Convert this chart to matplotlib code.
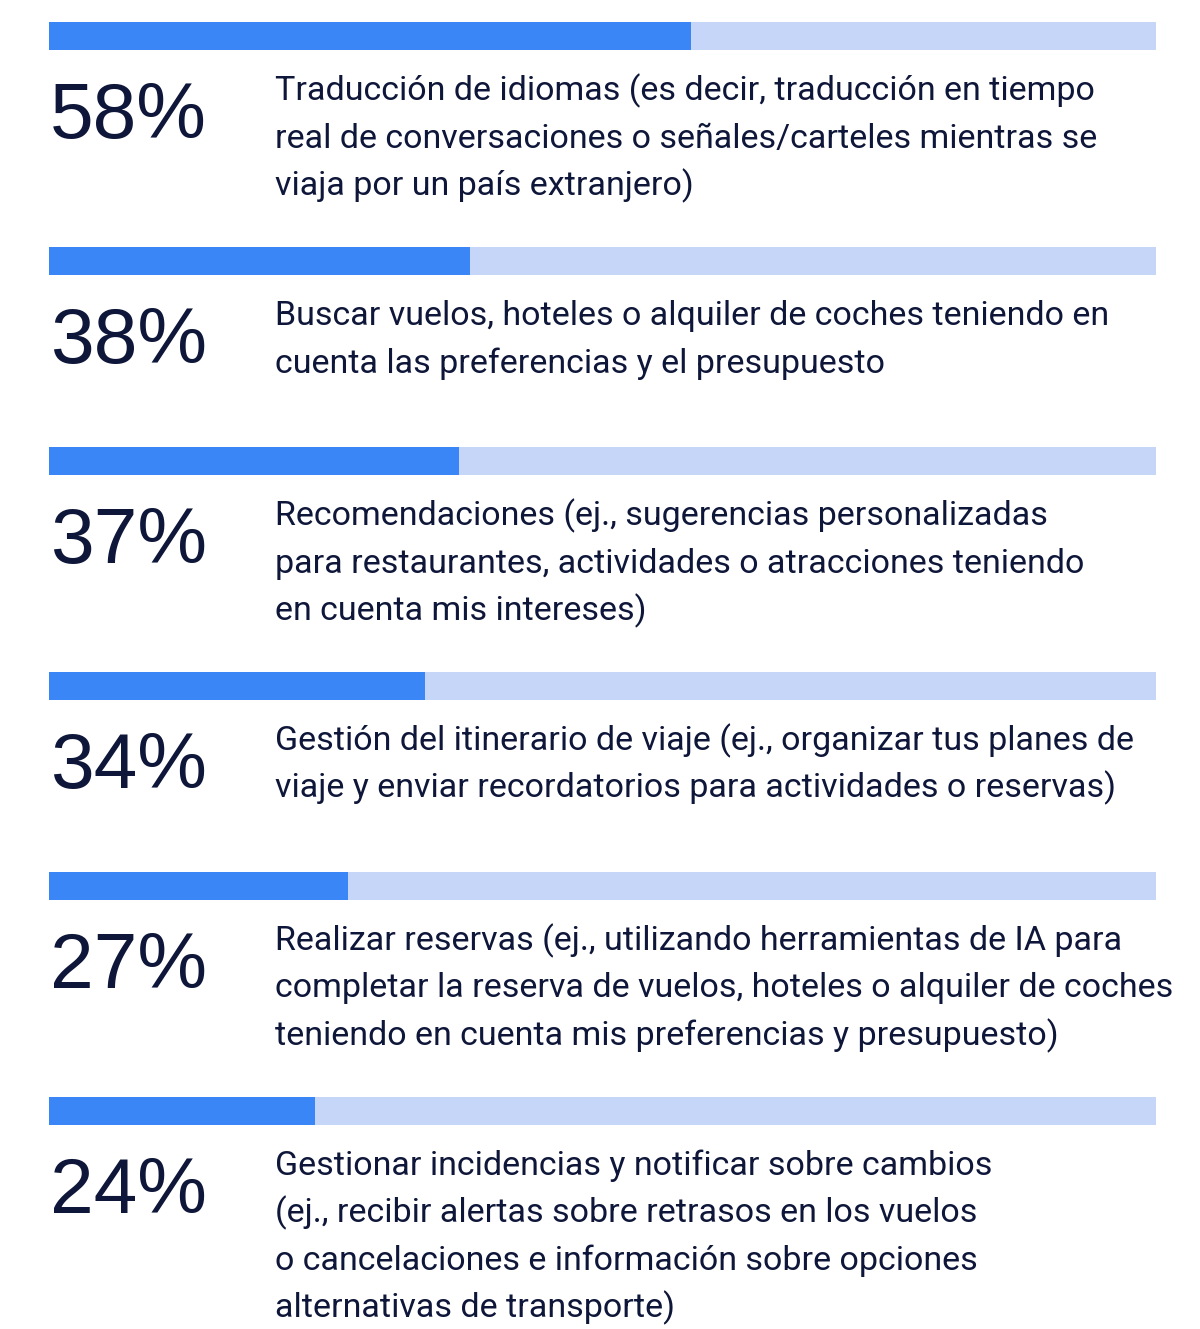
import matplotlib
matplotlib.use("Agg")
import matplotlib.pyplot as plt

values = [58, 38, 37, 34, 27, 24]
pct_labels = ["58%", "38%", "37%", "34%", "27%", "24%"]
labels = [
    "Traducción de idiomas (es decir, traducción en tiempo\nreal de conversaciones o señales/carteles mientras se\nviaja por un país extranjero)",
    "Buscar vuelos, hoteles o alquiler de coches teniendo en\ncuenta las preferencias y el presupuesto",
    "Recomendaciones (ej., sugerencias personalizadas\npara restaurantes, actividades o atracciones teniendo\nen cuenta mis intereses)",
    "Gestión del itinerario de viaje (ej., organizar tus planes de\nviaje y enviar recordatorios para actividades o reservas)",
    "Realizar reservas (ej., utilizando herramientas de IA para\ncompletar la reserva de vuelos, hoteles o alquiler de coches\nteniendo en cuenta mis preferencias y presupuesto)",
    "Gestionar incidencias y notificar sobre cambios\n(ej., recibir alertas sobre retrasos en los vuelos\no cancelaciones e información sobre opciones\nalternativas de transporte)",
]

W, H = 1200, 1329
DARK = "#3b86f6"
LIGHT = "#c5d6f8"
TEXT = "#0e1639"

fig = plt.figure(figsize=(W / 100, H / 100), dpi=100)
fig.patch.set_facecolor("white")

# text axes in pixel coordinates
axt = fig.add_axes([0, 0, 1, 1])
axt.set_xlim(0, W)
axt.set_ylim(H, 0)
axt.axis("off")

# bar axes spanning bar extent, 0-100 scale
x0, x1 = 49, 1156
axb = fig.add_axes([x0 / W, 0, (x1 - x0) / W, 1])
axb.set_xlim(0, 100)
axb.set_ylim(H, 0)
axb.axis("off")

bar_h = 28
line_sp = 47.5
top = 22
for v, p, lab in zip(values, pct_labels, labels):
    n = lab.count("\n") + 1
    yc = top + bar_h / 2
    axb.barh(yc, 100, height=bar_h, color=LIGHT, linewidth=0)
    axb.barh(yc, v, height=bar_h, color=DARK, linewidth=0)
    axt.text(50, top + 116, p, fontsize=56.5, family="Liberation Sans",
             color=TEXT, va="baseline", ha="left")
    for i, line in enumerate(lab.split("\n")):
        axt.text(275, top + 78 + i * line_sp, line, fontsize=24.5, family="Roboto",
                 color=TEXT, va="baseline", ha="left")
    top += 150 + 25 * n

fig.savefig("out.png", dpi=100, facecolor="white")
